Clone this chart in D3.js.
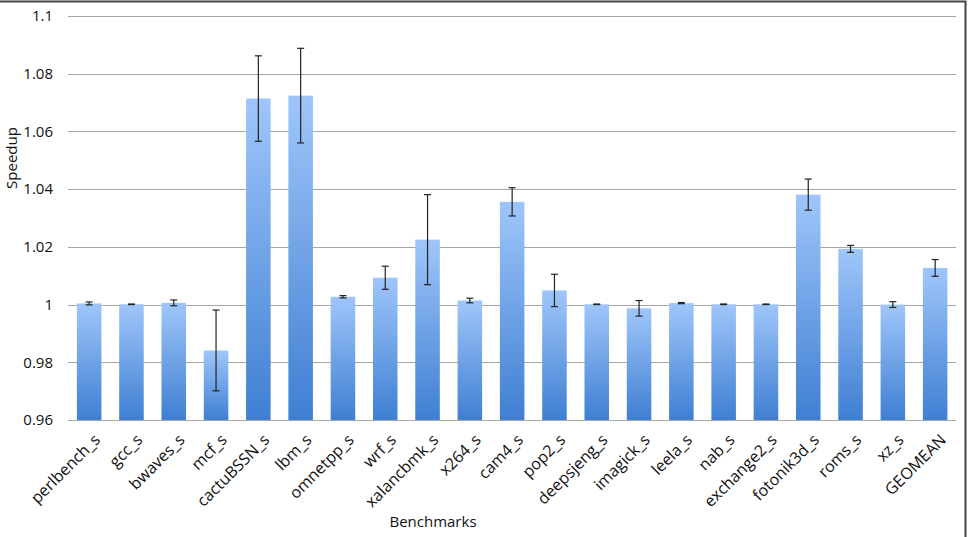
<!DOCTYPE html>
<html>
<head>
<meta charset="utf-8">
<script src="https://cdn.jsdelivr.net/npm/d3@7"></script>
<style>
  body { margin: 0; background: #fff; }
  svg { font-family: "Open Sans", Lato, sans-serif; }
</style>
</head>
<body>
<svg id="chart" width="971" height="537"></svg>
<script>
const width = 971;
const height = 537;

const benchmarks = [
    "perlbench_s", "gcc_s", "bwaves_s", "mcf_s", "cactuBSSN_s", "lbm_s",
    "omnetpp_s", "wrf_s", "xalancbmk_s", "x264_s", "cam4_s", "pop2_s",
    "deepsjeng_s", "imagick_s", "leela_s", "nab_s", "exchange2_s",
    "fotonik3d_s", "roms_s", "xz_s", "GEOMEAN"
];

const speedup = [
    1.0004, 1.0001, 1.0006, 0.9841, 1.0714, 1.0724,
    1.0027, 1.0093, 1.0225, 1.0014, 1.0356, 1.0049,
    1.0001, 0.9987, 1.0005, 1.0001, 1.0001,
    1.0381, 1.0193, 1.0, 1.0127
];

const errors = [
    0.0005, 0.0001, 0.001, 0.014, 0.0148, 0.0164,
    0.0004, 0.004, 0.0156, 0.0008, 0.0049, 0.0056,
    0.0001, 0.0027, 0.0002, 0.0001, 0.0001,
    0.0054, 0.0012, 0.001, 0.0029
];

const yTicks = [0.96, 0.98, 1, 1.02, 1.04, 1.06, 1.08, 1.1];

const margin = { top: 16, right: 15, bottom: 117, left: 68 };

const svg = d3.select("#chart");

// gradient like the spreadsheet bars
const grad = svg.append("defs").append("linearGradient")
    .attr("id", "barGrad")
    .attr("x1", 0).attr("y1", 0).attr("x2", 0).attr("y2", 1);
grad.append("stop").attr("offset", "0%").attr("stop-color", "#9fc6fa");
grad.append("stop").attr("offset", "100%").attr("stop-color", "#3f7fd2");

const x = d3.scaleBand()
    .domain(benchmarks)
    .range([margin.left, margin.left + 21 * 42.3])
    .paddingInner(0.42)
    .paddingOuter(0.21);

const y = d3.scaleLinear()
    .domain([0.96, 1.1])
    .range([height - margin.bottom, margin.top]);

// gridlines
svg.append("g")
    .selectAll("line")
    .data(yTicks)
    .join("line")
    .attr("x1", margin.left)
    .attr("x2", x.range()[1])
    .attr("y1", d => Math.round(y(d)) + 0.5)
    .attr("y2", d => Math.round(y(d)) + 0.5)
    .attr("stroke", "#a6a6a6")
    .attr("stroke-width", 1.2);

// y tick labels
svg.append("g")
    .selectAll("text")
    .data(yTicks)
    .join("text")
    .attr("x", 53)
    .attr("y", d => y(d))
    .attr("dy", "0.35em")
    .attr("text-anchor", "end")
    .attr("font-size", 15)
    .attr("fill", "#111")
    .text(d => d3.format("")(+d.toFixed(2)));

// bars
const data = benchmarks.map((b, i) => ({ name: b, v: speedup[i], e: errors[i] }));

svg.append("g")
    .selectAll("rect")
    .data(data)
    .join("rect")
    .attr("x", d => x(d.name))
    .attr("width", x.bandwidth())
    .attr("y", d => y(d.v))
    .attr("height", d => y(0.96) - y(d.v))
    .attr("fill", "url(#barGrad)");

// error bars
const eb = svg.append("g")
    .attr("stroke", "#222")
    .attr("stroke-width", 1.2)
    .selectAll("g")
    .data(data)
    .join("g");

eb.append("line")
    .attr("x1", d => x(d.name) + x.bandwidth() / 2)
    .attr("x2", d => x(d.name) + x.bandwidth() / 2)
    .attr("y1", d => y(d.v + d.e))
    .attr("y2", d => y(d.v - d.e));

eb.selectAll(".cap")
    .data(d => [d.v + d.e, d.v - d.e].map(val => ({ name: d.name, val })))
    .join("line")
    .attr("x1", d => x(d.name) + x.bandwidth() / 2 - 3.5)
    .attr("x2", d => x(d.name) + x.bandwidth() / 2 + 3.5)
    .attr("y1", d => y(d.val))
    .attr("y2", d => y(d.val));

// x labels
svg.append("g")
    .selectAll("text")
    .data(benchmarks)
    .join("text")
    .attr("transform", d => `translate(${x(d) + x.bandwidth() / 2 + 4},${y(0.96) + 13}) rotate(-45)`)
    .attr("text-anchor", "end")
    .attr("dy", "0.7em")
    .attr("font-size", 16)
    .attr("fill", "#111")
    .text(d => d);

// axis titles
svg.append("text")
    .attr("x", 433)
    .attr("y", 527)
    .attr("text-anchor", "middle")
    .attr("font-size", 15)
    .attr("fill", "#111")
    .text("Benchmarks");

svg.append("text")
    .attr("transform", "translate(17,158) rotate(-90)")
    .attr("text-anchor", "middle")
    .attr("font-size", 15)
    .attr("fill", "#111")
    .text("Speedup");

// frame (top and right edges visible)
svg.append("path")
    .attr("d", `M0,1.5H${965.5}V${height}`)
    .attr("fill", "none")
    .attr("stroke", "#444")
    .attr("stroke-width", 2);
</script>
</body>
</html>
